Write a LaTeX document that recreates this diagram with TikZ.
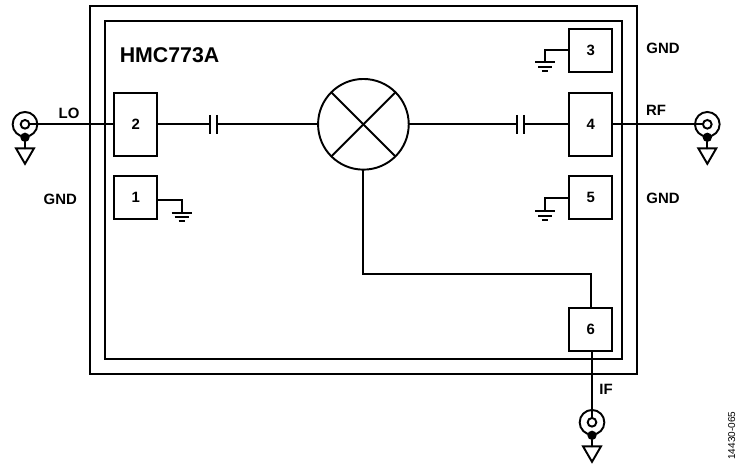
\documentclass[tikz,border=0pt]{standalone}
\usepackage{fontspec}
\setmainfont{Liberation Sans}
\tikzset{
  x=0.75pt,y=-0.75pt,
  wire/.style={line width=1.45pt,line cap=round,line join=miter},
  frame/.style={draw,line width=1.45pt,inner sep=0pt,outer sep=0pt},
  pin/.style={draw,line width=1.45pt,fill=white,inner sep=0pt,outer sep=0pt,minimum width=32.2pt,font=\bfseries\fontsize{11.2pt}{12pt}\selectfont},
  pinshort/.style={pin,minimum height=32pt},
  pintall/.style={pin,minimum height=47pt},
  label/.style={inner sep=0pt,font=\bfseries\fontsize{11.2pt}{12pt}\selectfont},
  coaxout/.style={circle,draw,line width=1.45pt,fill=white,inner sep=0pt,outer sep=0pt,minimum size=18.5pt},
  coaxin/.style={circle,draw,line width=1.45pt,fill=white,inner sep=0pt,outer sep=0pt,minimum size=6.5pt},
  coaxdot/.style={circle,fill=black,inner sep=0pt,outer sep=0pt,minimum size=7pt},
  mixer/.style={circle,draw,line width=1.45pt,fill=white,inner sep=0pt,outer sep=0pt,minimum size=68pt},
}
% #1 name, #2 x, #3 y of the coax centre
\newcommand{\coax}[3]{%
  \node[coaxout] (#1) at (#2,#3) {};
  \node[coaxdot] (#1d) at (#2,#3+13) {};
  \coordinate (#1t) at (#2,#3+24);
  \coordinate (#1l) at (#2-9,#3+24);
  \coordinate (#1r) at (#2+9,#3+24);
  \coordinate (#1a) at (#2,#3+39.5);
  \draw[wire] (#1d) -- (#1t);
  \draw[wire,line join=miter] (#1l) -- (#1r) -- (#1a) -- cycle;
}
% #1 name, #2 x, #3 y of the first bar
\newcommand{\earth}[3]{%
  \coordinate (#1) at (#2,#3);
  \draw[wire,line cap=butt] (#2-10,#3) -- (#2+10,#3);
  \draw[wire,line cap=butt] (#2-7,#3+4.4) -- (#2+7,#3+4.4);
  \draw[wire,line cap=butt] (#2-3.2,#3+8.7) -- (#2+3.2,#3+8.7);
}
% #1 name, #2 x of first plate, #3 x of second plate, #4 y
\newcommand{\capac}[4]{%
  \coordinate (#1a) at (#2,#4);
  \coordinate (#1b) at (#3,#4);
  \draw[wire,line cap=butt] (#2,#4-9.5) -- (#2,#4+9.5);
  \draw[wire,line cap=butt] (#3,#4-9.5) -- (#3,#4+9.5);
}
\begin{document}
\begin{tikzpicture}
\useasboundingbox (0,0) rectangle (737,464);
% package frames
\node[frame,minimum width=410.5pt,minimum height=276pt] (outer) at (363.25,190) {};
\node[frame,minimum width=387.5pt,minimum height=253pt] (inner) at (363.35,190) {};
\node[anchor=west,inner sep=0pt,font=\bfseries\fontsize{16pt}{18pt}\selectfont] (name) at (119.5,55) {HMC773A};
% pins
\node[pintall]  (pin2) at (135.7,124.3) {2};
\node[pinshort] (pin1) at (135.7,197.3) {1};
\node[pinshort] (pin3) at (590.7,50.6) {3};
\node[pintall]  (pin4) at (590.7,124.3) {4};
\node[pinshort] (pin5) at (590.7,197.3) {5};
\node[pinshort] (pin6) at (590.7,329.2) {6};
% mixer
\node[mixer] (mix) at (363.4,124.3) {};
\draw[wire,line cap=butt] (mix.north west) -- (mix.south east);
\draw[wire,line cap=butt] (mix.north east) -- (mix.south west);
% capacitors
\capac{cl}{210.3}{217.3}{124.3}
\capac{cr}{516.6}{524}{124.3}
\draw[wire,line cap=butt] (pin2.east) -- (cla);
\draw[wire,line cap=butt] (clb) -- (mix.west);
\draw[wire,line cap=butt] (mix.east) -- (cra);
\draw[wire,line cap=butt] (crb) -- (pin4.west);
% IF path
\coordinate (bendA) at (363.4,274);
\coordinate (bendB) at (591,274);
\draw[wire,line cap=butt] (mix.south) -- (bendA) -- (bendB) -- (bendB |- pin6.north);
% grounds
\earth{g1}{181.7}{212.7}
\coordinate (g1w) at (181.7,200);
\draw[wire,line cap=butt] (pin1.east |- g1w) -- (g1w) -- (g1);
\earth{g3}{545}{62.3}
\coordinate (g3w) at (545,50);
\draw[wire,line cap=butt] (pin3.west |- g3w) -- (g3w) -- (g3);
\earth{g5}{545}{211.3}
\coordinate (g5w) at (545,198.3);
\draw[wire,line cap=butt] (pin5.west |- g5w) -- (g5w) -- (g5);
% coax connectors
\coax{lo}{25}{124.3}
\coax{rf}{707.3}{124.3}
\coax{if}{592}{422.3}
\node[coaxin] (loi) at (lo) {};
\node[coaxin] (rfi) at (rf) {};
\node[coaxin] (ifi) at (if) {};
\draw[wire,line cap=butt] (loi.east) -- (pin2.west);
\draw[wire,line cap=butt] (pin4.east) -- (rfi.west);
\draw[wire,line cap=butt] (pin6.south -| if) -- (ifi.north);
% labels
\node[label] (tlo) at (69,113.5) {LO};
\node[label] (tgl) at (60.3,199.3) {GND};
\node[label] (tg3) at (663,48.7) {GND};
\node[label] (trf) at (656,110.7) {RF};
\node[label] (tg5) at (663,198.7) {GND};
\node[label] (tif) at (606,389) {IF};
\node[rotate=90,inner sep=0pt,font=\fontsize{7.5pt}{8pt}\selectfont] (code) at (731.7,435.7) {14430-065};
\end{tikzpicture}
\end{document}
